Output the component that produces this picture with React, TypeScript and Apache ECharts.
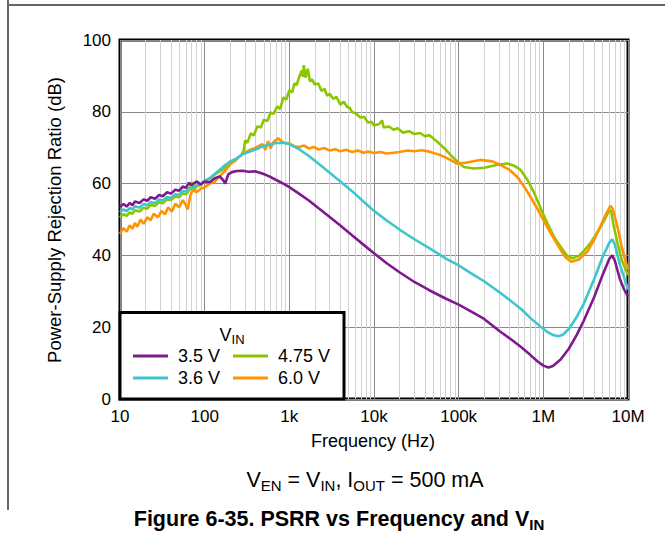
import React, { useEffect, useRef } from "react";
import * as echarts from "echarts";

// ---------- data ----------
const xTickLabels: Record<number, string> = {
  10: "10", 100: "100", 1000: "1k", 10000: "10k", 100000: "100k", 1000000: "1M", 10000000: "10M",
};
const minorFreqs = [
  20, 30, 40, 50, 60, 70, 80, 90,
  200, 300, 400, 500, 600, 700, 800, 900,
  2000, 3000, 4000, 5000, 6000, 7000, 8000, 9000,
  20e3, 30e3, 40e3, 50e3, 60e3, 70e3, 80e3, 90e3,
  200e3, 300e3, 400e3, 500e3, 600e3, 700e3, 800e3, 900e3,
  2e6, 3e6, 4e6, 5e6, 6e6, 7e6, 8e6, 9e6,
];

const seriesNames = ["3.5 V", "3.6 V", "4.75 V", "6.0 V"];
const seriesColors = ["#7E1A8E", "#3EC6CC", "#8CC600", "#FF9400"];

const freq35 = [10, 11, 12, 13, 14, 15, 17, 19, 21, 23, 26, 29, 32, 36, 40, 45, 50, 55, 60, 65, 70, 80, 90, 100, 115, 130, 150, 165, 175, 190, 210, 240, 280, 330, 400, 480, 580, 700, 850, 1000, 1300, 1700, 2200, 3000, 4000, 5500, 7500, 10e3, 14e3, 20e3, 30e3, 45e3, 70e3, 100e3, 150e3, 200e3, 300e3, 400e3, 550e3, 700e3, 850e3, 1e6, 1.15e6, 1.3e6, 1.6e6, 2e6, 2.5e6, 3e6, 4e6, 5e6, 6e6, 6.5e6, 7e6, 8e6, 9e6, 10e6];
const db35 = [53.5, 54.3, 53.6, 54.6, 54.0, 55.0, 54.6, 55.6, 55.2, 56.2, 55.8, 56.8, 56.5, 57.6, 57.2, 58.3, 58.0, 59.2, 58.8, 60.2, 59.6, 60.6, 59.8, 60.6, 60.4, 61.4, 62.0, 61.0, 60.0, 62.6, 63.2, 63.5, 63.6, 63.3, 63.4, 62.8, 62.0, 61.0, 60.0, 59.0, 57.2, 55.3, 53.2, 50.7, 48.3, 45.6, 43.0, 40.6, 37.9, 35.3, 32.6, 30.3, 28.0, 26.3, 24.0, 22.3, 19.0, 16.9, 14.4, 12.3, 10.5, 9.3, 8.8, 9.2, 11.0, 14.0, 18.0, 21.8, 28.5, 34.5, 39.0, 40.0, 38.5, 33.5, 30.5, 28.5];

const freq36 = [10, 11, 12, 13, 14, 15, 17, 19, 21, 23, 26, 29, 32, 36, 40, 45, 50, 55, 60, 65, 70, 80, 90, 100, 115, 130, 150, 175, 200, 240, 280, 330, 400, 480, 580, 700, 850, 1000, 1300, 1700, 2200, 3000, 4000, 5500, 7500, 10e3, 14e3, 20e3, 30e3, 45e3, 70e3, 100e3, 150e3, 200e3, 300e3, 400e3, 550e3, 700e3, 900e3, 1.1e6, 1.3e6, 1.5e6, 1.7e6, 2e6, 2.5e6, 3e6, 4e6, 5e6, 6e6, 6.5e6, 7e6, 8e6, 9e6, 10e6];
const db36 = [52.0, 52.8, 52.3, 53.2, 52.8, 53.7, 53.3, 54.3, 54.0, 54.8, 54.6, 55.6, 55.3, 56.3, 56.0, 57.0, 56.8, 58.0, 57.8, 58.8, 58.6, 59.6, 59.8, 60.8, 61.5, 62.6, 63.8, 65.2, 66.2, 67.0, 68.2, 68.8, 69.5, 70.4, 70.8, 71.3, 71.4, 71.0, 69.6, 67.7, 65.6, 63.0, 60.6, 57.9, 55.0, 52.4, 49.8, 47.2, 44.5, 42.0, 39.2, 37.2, 34.6, 32.8, 29.8, 27.6, 25.0, 22.6, 20.4, 18.8, 17.8, 17.5, 17.9, 19.5, 23.0, 26.5, 33.5, 39.5, 43.5, 44.5, 43.0, 37.5, 33.8, 30.5];

const freq475 = [10, 11, 12, 13, 14, 15, 17, 19, 21, 23, 26, 29, 32, 36, 40, 45, 50, 55, 60, 65, 70, 75, 80, 90, 100, 115, 130, 150, 175, 200, 230, 250, 270, 290, 300, 320, 350, 380, 420, 460, 500, 550, 600, 650, 720, 780, 850, 920, 1000, 1080, 1150, 1220, 1300, 1400, 1450, 1480, 1550, 1650, 1750, 1850, 2000, 2200, 2400, 2600, 2800, 3000, 3300, 3600, 4000, 4400, 4800, 5200, 5500, 6200, 6900, 7600, 8500, 9300, 10e3, 11.5e3, 12.5e3, 13e3, 15e3, 17e3, 19e3, 22e3, 26e3, 30e3, 35e3, 40e3, 45e3, 50e3, 60e3, 70e3, 80e3, 100e3, 115e3, 150e3, 200e3, 280e3, 380e3, 450e3, 540e3, 650e3, 770e3, 950e3, 1.12e6, 1.35e6, 1.6e6, 1.9e6, 2.2e6, 2.6e6, 3e6, 3.6e6, 4.5e6, 5.3e6, 5.9e6, 6.3e6, 6.7e6, 7.5e6, 8.5e6, 10e6];
const db475 = [50.5, 51.5, 51.0, 52.0, 51.6, 52.6, 52.2, 53.3, 53.0, 54.0, 53.8, 54.8, 54.5, 55.6, 55.4, 56.4, 56.2, 57.3, 57.0, 58.0, 60.4, 58.4, 59.2, 59.6, 60.8, 61.4, 62.4, 63.4, 64.4, 65.5, 66.4, 67.4, 67.9, 69.3, 72.0, 71.4, 74.0, 73.4, 76.0, 75.6, 77.8, 77.4, 79.8, 79.4, 81.5, 80.8, 84.0, 83.4, 86.0, 85.4, 88.0, 87.4, 89.5, 91.5, 89.8, 93.0, 89.5, 92.0, 88.5, 89.0, 87.6, 87.9, 85.8, 86.4, 84.5, 85.0, 83.6, 84.2, 82.0, 82.8, 81.4, 81.0, 80.0, 79.4, 78.4, 78.6, 77.0, 77.2, 76.2, 76.6, 77.6, 75.6, 75.9, 75.0, 75.4, 74.2, 74.6, 73.8, 74.1, 73.2, 73.5, 72.6, 71.0, 69.5, 68.0, 65.8, 64.6, 64.2, 64.4, 65.2, 65.6, 65.0, 63.8, 61.0, 57.7, 52.6, 48.9, 45.0, 42.4, 40.0, 39.2, 39.8, 41.2, 43.4, 47.0, 50.0, 52.2, 52.5, 48.8, 43.5, 38.5, 34.5];

const freq60 = [10, 11, 12, 13, 14, 15, 16, 17.5, 19, 21, 23, 25, 28, 31, 34, 37, 41, 45, 50, 55, 60, 63, 68, 72, 80, 90, 100, 115, 130, 150, 175, 200, 240, 280, 330, 400, 480, 520, 560, 600, 650, 740, 850, 1000, 1150, 1300, 1500, 1700, 1950, 2200, 2600, 3000, 3500, 4000, 4700, 5500, 6500, 7500, 8700, 10e3, 12e3, 14e3, 17e3, 20e3, 25e3, 30e3, 37e3, 45e3, 60e3, 80e3, 95e3, 120e3, 180e3, 250e3, 300e3, 400e3, 490e3, 600e3, 700e3, 850e3, 1e6, 1.2e6, 1.48e6, 1.8e6, 2.13e6, 2.6e6, 3.3e6, 4e6, 4.7e6, 5.5e6, 6.2e6, 6.6e6, 7.5e6, 8.5e6, 10e6];
const db60 = [46.0, 47.6, 46.6, 48.4, 47.4, 49.0, 48.0, 50.0, 48.8, 50.6, 49.8, 51.6, 50.6, 52.4, 51.4, 53.4, 52.2, 54.4, 53.4, 55.4, 54.0, 52.8, 56.8, 58.2, 57.6, 58.6, 59.0, 60.0, 60.4, 62.0, 63.6, 65.4, 67.0, 68.2, 69.2, 70.0, 71.0, 69.4, 71.8, 69.8, 71.6, 72.6, 71.4, 71.2, 70.4, 70.2, 70.6, 69.8, 70.2, 69.5, 69.9, 69.2, 69.6, 69.0, 69.4, 68.8, 69.2, 68.6, 68.9, 68.5, 68.8, 68.4, 68.6, 68.8, 69.2, 69.0, 69.3, 68.9, 68.0, 66.6, 65.6, 65.8, 66.6, 66.2, 65.4, 63.8, 61.9, 59.0, 56.4, 53.0, 49.9, 46.5, 42.9, 39.6, 38.2, 38.8, 41.0, 44.5, 48.0, 51.5, 53.8, 53.0, 48.0, 42.0, 36.0];

const curveFreqs = [freq35, freq36, freq475, freq60];
const curveDbs = [db35, db36, db475, db60];
const drawOrder = [2, 3, 1, 0];

const FONT = "Liberation Sans, Arial, sans-serif";

export default function App() {
  const ref = useRef<HTMLDivElement>(null);
  useEffect(() => {
    if (!ref.current) return;
    const chart = echarts.init(ref.current, undefined, { renderer: "svg" });
    const curveSeries = drawOrder.map((i) => ({
      name: seriesNames[i],
      type: "line",
      data: curveFreqs[i].map((f, k) => [f, curveDbs[i][k]]),
      showSymbol: false,
      symbol: "none",
      lineStyle: { color: seriesColors[i], width: 2.6 },
      itemStyle: { color: seriesColors[i] },
      z: 5,
      silent: true,
    }));
    const legendRows = [
      { i: 0, x: 133, y: 356 },
      { i: 2, x: 233, y: 356 },
      { i: 1, x: 133, y: 378 },
      { i: 3, x: 233, y: 378 },
    ];
    chart.setOption({
      animation: false,
      backgroundColor: "#fff",
      textStyle: { fontFamily: FONT },
      grid: {
        left: 120, top: 40, right: 37, bottom: 139,
        show: true, borderColor: "#000", borderWidth: 3, backgroundColor: "#fff",
      },
      xAxis: {
        type: "log", logBase: 10, min: 10, max: 1e7,
        axisLine: { show: false },
        axisTick: { show: false },
        axisLabel: {
          color: "#000", fontSize: 17, fontFamily: FONT, margin: 9,
          formatter: (v: number) => xTickLabels[Math.round(v)] ?? "",
        },
        splitLine: { show: true, lineStyle: { color: "#8a8a8a", width: 1 } },
      },
      yAxis: {
        type: "value", min: 0, max: 100, interval: 20,
        axisLine: { show: false },
        axisTick: { show: false },
        axisLabel: { color: "#000", fontSize: 17, fontFamily: FONT, margin: 9 },
        splitLine: { show: true, lineStyle: { color: "#8a8a8a", width: 1 } },
      },
      series: [
        {
          type: "line",
          data: [[10, 0]],
          symbol: "none",
          lineStyle: { opacity: 0 },
          silent: true,
          z: 1,
          markLine: {
            silent: true,
            symbol: ["none", "none"],
            label: { show: false },
            lineStyle: { color: "#d2d2d2", width: 1, type: "solid" },
            data: minorFreqs.map((f) => ({ xAxis: f })),
          },
        },
        ...curveSeries,
      ],
      graphic: [
        { type: "line", shape: { x1: 8, y1: 0, x2: 8, y2: 510 }, style: { stroke: "#666", lineWidth: 2 } },
        { type: "line", shape: { x1: 8, y1: 5, x2: 665, y2: 5 }, style: { stroke: "#666", lineWidth: 2 } },
        {
          type: "text", x: 54, y: 220, rotation: Math.PI / 2,
          style: { text: "Power-Supply Rejection Ratio (dB)", font: `18.5px ${FONT}`, fill: "#000", textAlign: "center", textVerticalAlign: "middle" },
        },
        {
          type: "text", x: 373, y: 441,
          style: { text: "Frequency (Hz)", font: `18px ${FONT}`, fill: "#000", textAlign: "center", textVerticalAlign: "middle" },
        },
        {
          type: "text", x: 365, y: 480,
          style: {
            text: "V{s|EN} = V{s|IN}, I{s|OUT} = 500 mA",
            fontSize: 21.5, fontFamily: FONT, fill: "#000", textAlign: "center", textVerticalAlign: "middle",
            rich: { s: { fontSize: 15, fontFamily: FONT, fill: "#000", padding: [10, 0, 0, 0] } },
          },
        },
        {
          type: "text", x: 339, y: 519,
          style: {
            text: "Figure 6-35. PSRR vs Frequency and V{s|IN}",
            fontSize: 21.5, fontWeight: "bold", fontFamily: FONT, fill: "#000", textAlign: "center", textVerticalAlign: "middle",
            rich: { s: { fontSize: 15, fontWeight: "bold", fontFamily: FONT, fill: "#000", padding: [10, 0, 0, 0] } },
          },
        },
        { type: "rect", z: 100, shape: { x: 120, y: 312.5, width: 224, height: 86.5 }, style: { fill: "#fff", stroke: "#000", lineWidth: 3 } },
        {
          type: "text", z: 101, x: 232, y: 335,
          style: {
            text: "V{s|IN}", fontSize: 18, fontFamily: FONT, fill: "#000", textAlign: "center", textVerticalAlign: "middle",
            rich: { s: { fontSize: 13, fontFamily: FONT, fill: "#000", padding: [9, 0, 0, 0] } },
          },
        },
        ...legendRows.flatMap((r) => [
          { type: "line", z: 101, shape: { x1: r.x, y1: r.y, x2: r.x + 35, y2: r.y }, style: { stroke: seriesColors[r.i], lineWidth: 3 } },
          {
            type: "text", z: 101, x: r.x + 45, y: r.y,
            style: { text: seriesNames[r.i], font: `18px ${FONT}`, fill: "#000", textAlign: "left", textVerticalAlign: "middle" },
          },
        ]),
      ],
    });
    return () => chart.dispose();
  }, []);
  return <div ref={ref} style={{ position: "fixed", left: 0, top: 0, width: 665, height: 538 }} />;
}
